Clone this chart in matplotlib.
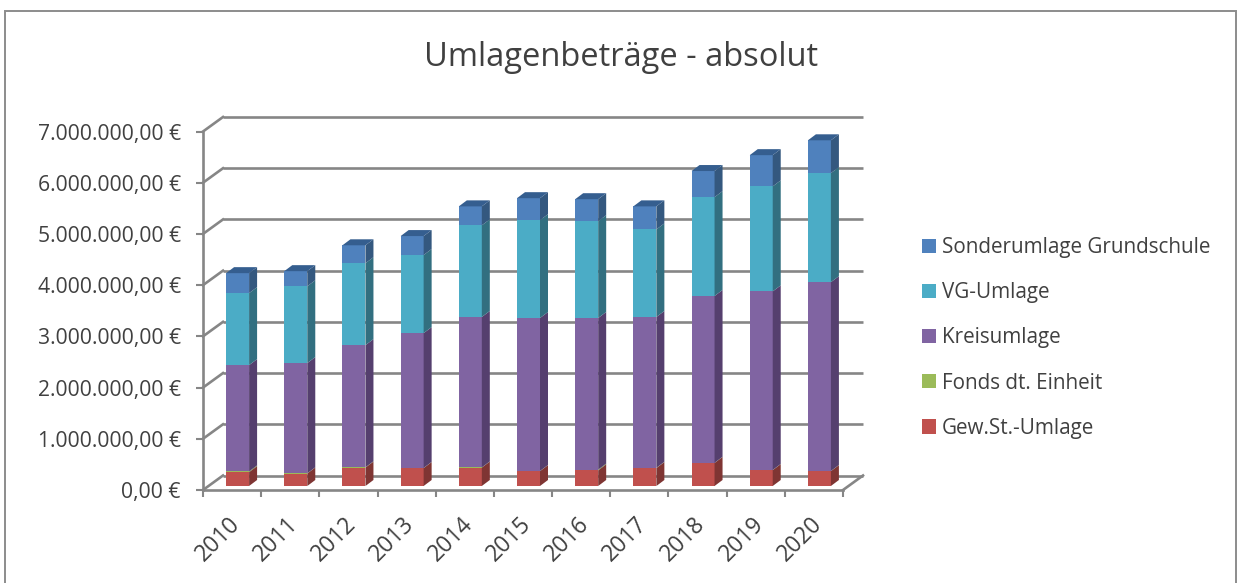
import matplotlib
matplotlib.use("Agg")
import matplotlib.pyplot as plt
from matplotlib.patches import Polygon, Patch, Rectangle
from matplotlib.transforms import ScaledTranslation
import numpy as np

plt.rcParams['font.family'] = ['Open Sans', 'DejaVu Sans']

years = ['2010', '2011', '2012', '2013', '2014', '2015', '2016', '2017', '2018', '2019', '2020']
gewst = [270000, 244000, 360000, 350000, 360000, 290000, 305000, 350000, 450000, 310000, 290000]
fonds = [15000, 3000, 5000, 3000, 3000, 3000, 15000, 5000, 3000, 3000, 3000]
kreis = [2075000, 2153000, 2385000, 2632000, 2937000, 2987000, 2960000, 2945000, 3257000, 3487000, 3687000]
vg = [1406000, 1500000, 1600000, 1525000, 1790000, 1910000, 1890000, 1710000, 1930000, 2050000, 2130000]
sonder = [390000, 295000, 350000, 370000, 370000, 430000, 430000, 450000, 510000, 610000, 640000]

series_names = ['Gew.St.-Umlage', 'Fonds dt. Einheit', 'Kreisumlage', 'VG-Umlage', 'Sonderumlage Grundschule']
series_vals = [gewst, fonds, kreis, vg, sonder]
front_cols = ['#C0504D', '#9BBB59', '#8064A2', '#4BACC6', '#4F81BD']
side_cols = ['#7F3533', '#677C3B', '#553F6E', '#326F80', '#34587F']
top_col = '#355E8F'

y_ticks = [0, 1000000, 2000000, 3000000, 4000000, 5000000, 6000000, 7000000]
y_labels = ['0,00 €', '1.000.000,00 €', '2.000.000,00 €', '3.000.000,00 €', '4.000.000,00 €',
            '5.000.000,00 €', '6.000.000,00 €', '7.000.000,00 €']

W, H = 1237, 583
txt = '#404040'
gray = '#868686'

fig = plt.figure(figsize=(W/100, H/100), dpi=100)
fig.patch.set_facecolor('white')

# outer frame of the chart
fig.add_artist(Rectangle((5/W, -0.05), 1231/W, 1.05 - 11/H, transform=fig.transFigure,
                         fill=False, edgecolor='#8c8c8c', linewidth=1.4))

ax = fig.add_axes([203/W, 1 - 490/H, 640/W, 358.5/H])
ax.set_xlim(-0.5, 10.5)
ax.set_ylim(0, 7000000)
ax.patch.set_alpha(0)

# pixel sizes to data units
px_x = 11 / 640
px_y = 7000000 / 358.5

wall_dx = 20 * px_x
wall_dy = 14.5 * px_y

# back wall and floor
for t in y_ticks:
    ax.plot([-0.5, -0.5 + wall_dx], [t, t + wall_dy], color=gray, lw=1.9, clip_on=False, zorder=1)
    ax.plot([-0.5 + wall_dx, 10.5 + wall_dx], [t + wall_dy, t + wall_dy], color=gray, lw=1.9,
            clip_on=False, zorder=1, solid_capstyle='butt')
ax.plot([10.5, 10.5 + wall_dx], [0, wall_dy], color=gray, lw=1.9, clip_on=False, zorder=1)

# bars with their 3d sides
x = np.arange(len(years))
bar_w = 23 * px_x
shift = 5.5 * px_x
base = 4 * px_y
depth_x = 8 * px_x
depth_y = 6 * px_y

cum = np.zeros(len(years)) + base
for vals, fc, sc in zip(series_vals, front_cols, side_cols):
    vals = np.array(vals, dtype=float)
    ax.bar(x + shift, vals, bar_w, bottom=cum, color=fc, clip_on=False, zorder=3, linewidth=0)
    for i in range(len(years)):
        x1 = x[i] + shift + bar_w / 2
        ax.add_patch(Polygon([(x1, cum[i]), (x1 + depth_x, cum[i] + depth_y),
                              (x1 + depth_x, cum[i] + vals[i] + depth_y), (x1, cum[i] + vals[i])],
                             closed=True, facecolor=sc, edgecolor='none', clip_on=False, zorder=3))
    cum = cum + vals

for i in range(len(years)):
    x0 = x[i] + shift - bar_w / 2
    x1 = x0 + bar_w
    ax.add_patch(Polygon([(x0, cum[i]), (x1, cum[i]), (x1 + depth_x, cum[i] + depth_y),
                          (x0 + depth_x, cum[i] + depth_y)],
                         closed=True, facecolor=top_col, edgecolor='none', clip_on=False, zorder=3))

# axes
for s in ['top', 'right']:
    ax.spines[s].set_visible(False)
for s in ['left', 'bottom']:
    ax.spines[s].set_color(gray)
    ax.spines[s].set_linewidth(1.9)
    ax.spines[s].set_zorder(4)

ax.set_yticks(y_ticks)
ax.set_yticklabels(y_labels)
ax.tick_params(axis='y', length=5, width=1.5, color=gray, pad=11, labelsize=15.2, labelcolor=txt)

ax.set_xticks(x)
ax.set_xticklabels(years, rotation=45, ha='right', rotation_mode='anchor')
ax.set_xticks(np.arange(-0.5, 11, 1), minor=True)
ax.tick_params(axis='x', which='major', length=0, pad=16, labelsize=16.5, labelcolor=txt)
ax.tick_params(axis='x', which='minor', length=5, width=1.5, color=gray)
for lab in ax.get_xticklabels():
    lab.set_transform(lab.get_transform() + ScaledTranslation(-4/100, 0, fig.dpi_scale_trans))

fig.text(621/W, 1 - 57/H, 'Umlagenbeträge - absolut', fontsize=23.5, color=txt, ha='center', va='center')

handles = [Patch(facecolor=c, edgecolor='none') for c in front_cols[::-1]]
fig.legend(handles, series_names[::-1], loc='center left', bbox_to_anchor=(903/W, 1 - 338/H),
           frameon=False, fontsize=14.85, labelcolor=txt, handlelength=0.68, handleheight=0.68,
           handletextpad=0.3, labelspacing=1.17)

fig.savefig('out.png', dpi=100)
